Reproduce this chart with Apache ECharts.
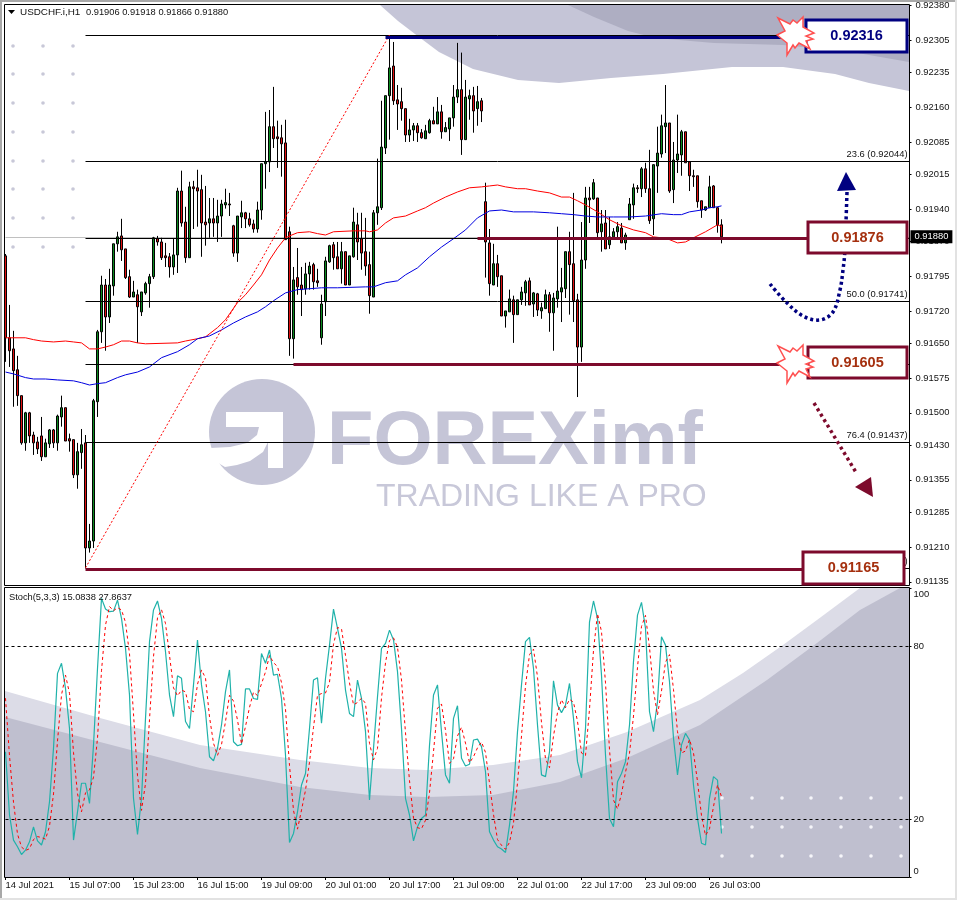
<!DOCTYPE html>
<html><head><meta charset="utf-8">
<style>html,body{margin:0;padding:0;background:#fff}#c{width:957px;height:900px}</style>
<script src="https://cdn.jsdelivr.net/npm/echarts@6/dist/echarts.min.js"></script>
</head><body><div id="c"></div>
<script>
// Prices in points (1 point = 0.00001)
const opens=[91839,91662,91638,91593,91537,91435,91500,91452,91437,91450,
91405,91433,91463,91435,91491,91511,91444,91442,91366,91414,
91435,91208,91223,91524,91675,91776,91707,91774,91865,91882,
91854,91794,91750,91755,91718,91759,91779,91794,91876,91869,
91839,91837,91815,91841,91979,91912,91835,91988,91986,91982,
91912,91910,91919,91910,91925,91949,91951,91904,91845,91923,
91932,91919,91908,91897,91938,92038,92042,92118,92096,92094,
92083,91891,91660,91792,91776,91768,91800,91820,91785,91662,
91740,91826,91863,91837,91811,91848,91776,91837,91906,91876,
91848,91820,91750,91932,91943,92072,92185,92249,92176,92172,
92157,92100,92111,92120,92105,92092,92105,92131,92124,92150,
92107,92113,92137,92182,92198,92090,92178,92185,92157,92174,
91956,91867,91776,91822,91796,91709,91718,91744,91712,91744,
91759,91785,91735,91757,91720,91725,91755,91716,91746,91761,
91768,91848,91822,91744,91642,91830,91964,91962,91964,91891,
91910,91863,91880,91891,91899,91867,91917,91949,91986,91984,
92027,91984,91919,92033,92059,92118,92126,91982,92046,92057,
92107,92042,92012,92012,91958,91938,91943,91990,91943,91906];
const closes=[91662,91634,91591,91537,91435,91500,91450,91435,91422,91405,
91435,91463,91435,91493,91511,91439,91439,91366,91416,91431,
91208,91223,91526,91675,91776,91707,91776,91865,91880,91852,
91792,91750,91761,91729,91761,91779,91794,91878,91869,91835,
91835,91815,91841,91979,91910,91835,91988,91984,91979,91910,
91906,91919,91910,91925,91951,91954,91949,91845,91925,91932,
91919,91906,91897,91938,92038,92042,92118,92092,92092,92081,
91874,91660,91787,91772,91766,91800,91817,91783,91781,91735,
91828,91861,91835,91811,91848,91776,91839,91912,91869,91845,
91817,91753,91932,91945,92074,92185,92245,92174,92167,92157,
92100,92111,92120,92105,92094,92109,92131,92124,92150,92107,
92116,92137,92182,92198,92090,92182,92185,92152,92172,92152,
91869,91779,91822,91794,91709,91720,91746,91712,91744,91761,
91783,91733,91759,91722,91727,91755,91716,91748,91763,91770,
91848,91820,91742,91642,91830,91964,91960,91997,91889,91908,
91854,91880,91891,91902,91867,91884,91951,91986,91984,92027,
91984,91915,92036,92061,92120,92126,91979,92046,92059,92107,
92040,92012,92010,91956,91938,91945,91988,91943,91906,91880];
const highs=[91843,91733,91677,91623,91537,91502,91502,91459,91448,91491,
91444,91465,91465,91496,91537,91511,91455,91442,91435,91465,
91452,91260,91530,91679,91796,91789,91811,91865,91891,91919,
91854,91809,91785,91766,91761,91783,91800,91880,91882,91878,
91867,91845,91876,91986,92023,91945,91999,92001,92025,92014,
91990,91964,91964,91960,91960,91984,91975,91906,91925,91958,
91934,91932,91917,91956,92038,92150,92154,92204,92131,92122,
92133,91902,91815,91856,91815,91824,91826,91824,91811,91755,
91837,91863,91869,91869,91869,91848,91839,91943,91932,91932,
91921,91848,91938,92049,92174,92185,92310,92301,92208,92202,
92157,92135,92126,92126,92113,92122,92135,92161,92182,92165,
92128,92137,92208,92299,92278,92219,92198,92204,92206,92180,
91997,91897,91865,91841,91796,91720,91766,91753,91744,91772,
91787,91792,91761,91759,91738,91766,91761,91759,91902,91813,
91848,91891,91975,91757,91912,91988,91988,92005,91964,91938,
91938,91923,91899,91912,91910,91889,91964,91995,91992,92031,
92040,92068,92036,92118,92144,92208,92126,92085,92144,92111,
92107,92042,92025,92012,91958,91945,92012,91992,91945,91918];
const lows=[91610,91599,91513,91515,91431,91418,91435,91409,91411,91396,
91405,91424,91424,91418,91470,91439,91416,91359,91336,91379,
91165,91198,91208,91491,91651,91634,91694,91753,91848,91828,
91789,91748,91750,91651,91709,91755,91727,91789,91861,91830,
91815,91792,91798,91802,91902,91824,91835,91897,91902,91837,
91861,91878,91880,91869,91880,91941,91925,91837,91826,91899,
91899,91902,91889,91889,91917,91984,92020,92072,92029,92010,
91874,91623,91617,91755,91709,91755,91766,91766,91772,91647,
91709,91824,91809,91811,91779,91776,91776,91835,91830,91809,
91796,91714,91750,91906,91938,92059,92090,92165,92111,92131,
92085,92085,92087,92085,92092,92092,92103,92124,92124,92092,
92107,92087,92118,92169,92057,92090,92133,92105,92120,92128,
91792,91753,91776,91772,91709,91684,91718,91651,91712,91733,
91731,91733,91707,91709,91703,91725,91675,91634,91727,91696,
91748,91712,91696,91534,91610,91811,91910,91960,91878,91848,
91854,91854,91878,91878,91867,91852,91917,91919,91975,91966,
91975,91908,91884,91975,92051,92061,91975,91953,92018,92012,
92040,91979,91988,91943,91921,91936,91943,91943,91889,91866];

// Moving averages read at bar index / value
const maRedBars=[0,5,7,9,12,15,17,19,21,23,25,27,29,31,33,35,43,45,48,50,53,55,58,60,62,64,66,68,70,71,73,76,78,80,82,87,90,91,93,95,97,100,103,105,107,110,113,116,119,121,123,125,128,130,133,136,139,141,143,145,148,151,154,157,160,162,164,166,168,170,172,175,178,179];
const maRedValues=[91662,91662,91658,91655,91653,91655,91653,91651,91638,91638,91642,91647,91655,91655,91651,91649,91651,91655,91660,91664,91684,91701,91738,91755,91776,91798,91830,91856,91878,91882,91889,91891,91887,91884,91891,91893,91893,91891,91895,91910,91921,91925,91936,91943,91953,91966,91977,91986,91988,91990,91992,91988,91984,91984,91979,91975,91966,91966,91958,91949,91934,91917,91904,91895,91889,91880,91878,91874,91867,91869,91878,91891,91906,91902];
const maBlueBars=[0,2,5,7,10,13,17,19,21,23,25,28,30,33,36,39,43,46,48,51,54,57,60,63,65,67,70,73,76,79,83,90,92,95,98,100,103,106,109,112,115,118,121,124,127,132,136,139,142,145,148,152,156,160,164,167,169,171,174,176,178,179];
const maBlueValues=[91588,91584,91576,91573,91573,91571,91569,91565,91560,91563,91565,91576,91582,91588,91599,91619,91632,91647,91660,91666,91679,91694,91707,91718,91729,91742,91759,91766,91768,91770,91770,91772,91772,91781,91785,91798,91813,91837,91858,91876,91895,91921,91936,91938,91934,91934,91932,91930,91928,91925,91923,91923,91923,91925,91930,91928,91928,91934,91938,91943,91945,91947];

// Stochastic
const stochK=[43.4,21.5,12.8,10.5,7.8,9.3,12.2,17.4,12.5,11.1,15.7,26.1,44.6,70.6,74.1,65.4,51.5,12.8,22.6,32.5,
32.5,25.5,45.7,72.3,96.6,92.9,92,92.2,96,89.7,79.3,63.1,27.3,14.8,27.3,55,81.6,92.6,95.7,89.7,
78.1,63.1,55.6,69.8,68.9,53.9,51.5,66.6,82.2,66.6,57.3,41.7,40.3,44.6,52.7,64.3,71.8,46.9,45.5,46,
65.2,65.2,61.9,61.6,77.5,74.1,78.7,70,70.3,61.9,42.3,12,15.1,22.6,31.9,35.9,51.5,68.3,69.1,53.3,
68.9,80.4,92.9,86.2,79.3,64.8,56.7,55.6,68.3,61.9,50.4,26.7,44.6,62.5,79.3,81,85.6,82.2,71.2,51.5,
27.3,21.5,12.5,17.4,20.3,21.5,45.7,63.1,66.6,50.4,35.4,32.5,55,59.4,41.2,38.5,39.1,47.5,47.8,45.2,
36.5,15.7,12.8,10.5,9.7,8.5,18,29.6,50.4,66.6,81.6,83.1,72.3,52.7,35.4,34.8,43.4,68,59.6,57,
59.6,67.1,55,40,34.4,51.5,88.5,95.7,89.7,70,42.3,20.3,17.4,33,35.9,40,52.7,74.7,90.8,95.2,
86.2,57.3,50.4,60.8,83.3,80.4,67.7,48.1,35.4,45.8,49.8,47.5,31.9,20.3,11.7,11.1,27.3,34.8,33.6,15.08];
const stochD=[62,42,25.9,14.9,10.4,9.2,9.8,13,14,13.7,13.1,17.6,28.8,47.1,63.1,70,63.7,43.2,28.9,22.6,
29.2,30.2,34.6,48.1,71.5,87.3,93.8,92.3,93.4,92.6,88.3,77.4,56.6,35.1,23.1,32.4,54.6,76.4,89.9,92.7,
87.9,76.9,65.6,62.8,64.8,64.2,58.1,57.3,66.8,71.8,69,55.5,46.4,42.2,45.9,53.9,63,61,54.4,46.1,
52.2,58.8,64.1,62.9,67,71.1,76.8,74.3,73,67.4,58.2,38.7,23.1,16.6,23.2,30.1,39.8,51.9,63,63.6,
63.8,67.5,80.7,86.5,86.1,76.8,67.3,59.7,60.5,62,60.2,46.3,40.6,44.6,62.1,74.3,82,82.9,79.7,68.3,
50,33.4,20.4,17.1,16.7,19.7,29.2,43.4,58.5,60,50.8,39.4,41,48.9,51.9,46.4,39.6,41.7,44.8,46.8,
43.2,32.5,21.7,13,11,9.6,12,18.7,32.7,48.9,66.3,77.1,79,69.4,53.5,41,37.9,48.9,57,61.5,
58.7,61.6,60.6,54,43,42.1,58.2,78.6,91.3,85.1,67.3,44.2,26.7,23.6,28.8,36.3,42.9,55.8,72.7,86.9,
90.7,79.6,64.6,56.2,64.5,74.5,77.1,65,50.4,43,43.7,47.7,43,33.2,21.3,14.4,16.7,24.4,31.9,27.86];
const stochLevels=[80,20];

// Axes
const xTickLabels=['14 Jul 2021','15 Jul 07:00','15 Jul 23:00','16 Jul 15:00','19 Jul 09:00','20 Jul 01:00','20 Jul 17:00','21 Jul 09:00','22 Jul 01:00','22 Jul 17:00','23 Jul 09:00','26 Jul 03:00'];
const priceTicks=[0.9238,0.92305,0.92235,0.9216,0.92085,0.92015,0.9194,0.9187,0.91795,0.9172,0.9165,0.91575,0.915,0.9143,0.91355,0.91285,0.9121,0.91135];
const stochTicks=[0,20,80,100];
// the 0 and 100 captions sit just inside the pane edges
const stochLabelSpots=[2,20,80,98];
const stochLabelText={2:'0',20:'20',80:'80',98:'100'};

// Fibonacci retracement
const fibPrices=[0.92316,0.92044,0.91876,0.91741,0.91605,0.91437,0.91165];
const fibPercents=['0.0','23.6','38.2','50.0','61.8','76.4','100.0'];
const fibStartBar=20, fibEndBar=96, lastPrice=0.9188;

// Highlighted levels
const levelPrices=[0.92311,0.91876,0.91605,0.91161];
const levelStartBars=[95,118,72,20];
const levelEndBars=[197,201,197,200];
const levelColors=['#000080','#7d0a2c','#7d0a2c','#7d0a2c'];
const boxTexts=['0.92316','0.91876','0.91605','0.91165'];

const BAR_SLOTS=227, FONT='"Liberation Sans",Arial,sans-serif', LABEL=9.4, CRIM='#7d0a2c', NAVY='#000080';
const P=v=>v/100000;
const categories=Array.from({length:BAR_SLOTS},(_,i)=>i%16===0&&xTickLabels[i/16]?xTickLabels[i/16]:'');
const showCat=i=>categories[i]!=='';
const candles=opens.map((o,i)=>[P(o),P(closes[i]),P(lows[i]),P(highs[i])]);
const pairs=(b,v)=>b.map((x,i)=>[x,P(v[i])]);

// ---- decoration (watermark, frames, annotations) ----
const poly=(pts,fill,z,extra)=>Object.assign({type:'polygon',silent:true,z:z,shape:{points:pts},style:{fill:fill}},extra||{});
const deco=[];
const LIGHT='#c5c5d7',DARK='#aeaec2';
deco.push(poly([[380,5],[398,21],[415,34],[439,52],[473,69],[518,80],[559,83],[611,78],[663,74],[732,67],[783,67],[835,74],[869,83],[909,91],[909,5]],LIGHT,0));
deco.push(poly([[568,5],[594,17],[628,31],[656,38],[714,43],[783,45],[852,52],[909,62],[909,5]],DARK,0));
// stoch pane background
deco.push(poly([[5,691],[100,718],[200,745],[300,760],[370,768],[427,770],[493,765],[560,755],[627,732],[700,700],[743,673],[783,645],[817,620],[860,588],[909,588],[909,877],[5,877]],'#dcdce7',0));
deco.push(poly([[5,717],[100,742],[200,768],[300,787],[370,795],[427,797],[493,795],[560,782],[627,758],[700,725],[767,680],[817,643],[860,610],[900,588],[909,588],[909,877],[5,877]],'#bfbfcf',0));
// dots
[13,43,73].forEach(x=>[46,74,103,132,161,189,218,247].forEach(y=>deco.push({type:'circle',silent:true,z:0,shape:{cx:x,cy:y,r:1.8},style:{fill:'#c8c8d8'}})));
[722,752,782,811,841,871,901].forEach(x=>[798,827,856].forEach(y=>deco.push({type:'circle',silent:true,z:0,shape:{cx:x,cy:y,r:1.8},style:{fill:'#f6f6fa'}})));
// logo
deco.push({type:'circle',silent:true,z:0,shape:{cx:262,cy:432,r:53},style:{fill:LIGHT}});
deco.push(poly([[226,412],[283,412],[283,468],[268,468],[268,442],[263,452],[250,461],[237,465],[225,467],[208,457],[207,448],[210,448],[230,447],[247,443],[257,435],[259,427],[226,427]],'#fff',0));
deco.push({type:'text',silent:true,z:0,x:327,y:443,style:{text:'FOREXimf',font:'bold 76px '+FONT,fill:LIGHT,textVerticalAlign:'middle'}});
deco.push({type:'text',silent:true,z:0,x:376,y:497,style:{text:'TRADING LIKE A PRO',font:'32px '+FONT,fill:'#c8c8d9',textVerticalAlign:'middle'}});
// frames
const frame=(x,y,w,h,s,lw,z)=>({type:'rect',silent:true,z:z,shape:{x,y,width:w,height:h},style:{fill:'none',stroke:s,lineWidth:lw}});
deco.push(frame(4.5,4.5,905,581,'#000',1,60),frame(4.5,587.5,905,290,'#000',1,60));
[[0,0,2,900,'#a8a8a8'],[0,0,957,2,'#a8a8a8'],[955,0,2,900,'#e2e2e2'],[0,898,957,2,'#e2e2e2']].forEach(r=>deco.push({type:'rect',silent:true,z:60,shape:{x:r[0],y:r[1],width:r[2],height:r[3]},style:{fill:r[4]}}));
// header texts
deco.push(poly([[8,10],[15,10],[11.5,14]],'#000',60));
const txt=(x,y,t,f,c,a)=>({type:'text',silent:true,z:70,x,y,style:{text:t,font:f,fill:c,textVerticalAlign:'middle',textAlign:a||'left'}});
deco.push(txt(20,12,'USDCHF.i,H1','9.9px '+FONT,'#111'),txt(86,12,'0.91906 0.91918 0.91866 0.91880','9.3px '+FONT,'#111'));
deco.push(txt(9,597,'Stoch(5,3,3) 15.0838 27.8637','9.3px '+FONT,'#111'));
// boxes
const boxes=[[806,20,101,32,NAVY,NAVY],[808,222,99,31,CRIM,'#a5300f'],[808,347,99,31,CRIM,'#a5300f'],[803,552,101,32,CRIM,'#a5300f']];
boxes.forEach((b,i)=>{deco.push({type:'rect',silent:true,z:62,shape:{x:b[0],y:b[1],width:b[2],height:b[3]},style:{fill:'#fff',stroke:b[4],lineWidth:3}});
 deco.push(txt(b[0]+b[2]/2,b[1]+b[3]/2,boxTexts[i],'bold 14.5px '+FONT,b[5],'center'));});
// bursts
const burstPts=[[778,18],[790,24],[793,20],[797,23],[803,17],[803,27],[814,33],[806,36],[813,39],[806,41],[810,49],[799,43],[795,48],[793,45],[787,55],[787,43],[777,35],[785,31]];
[0,328].forEach(dy=>deco.push(poly(burstPts.map(p=>[p[0],p[1]+dy]),'#fff',63,{style:{fill:'#fff',stroke:'#ff5050',lineWidth:1.5}})));
// dotted arrows
deco.push({type:'polyline',silent:true,z:55,shape:{smooth:0.35,points:[[770,284],[786,302],[803,316],[820,320],[833,312],[840,290],[843,270],[845,250],[846,222],[847,192]]},style:{fill:'none',stroke:NAVY,lineWidth:3.5,lineDash:[3,3]}});
deco.push(poly([[846,172],[837,191],[856,190]],NAVY,56));
deco.push({type:'polyline',silent:true,z:55,shape:{points:[[814,403],[857,474]]},style:{fill:'none',stroke:CRIM,lineWidth:3.5,lineDash:[3,3.4]}});
deco.push(poly([[855,487],[871,477],[873,497]],CRIM,56));

// ---- chart ----
const fibLines=fibPrices.map((v,i)=>[{xAxis:fibStartBar,yAxis:v,label:{show:true,formatter:fibPercents[i]+' ('+v.toFixed(5)+')',position:'insideEndTop',distance:2,color:'#111',fontSize:LABEL,fontFamily:FONT}},{xAxis:BAR_SLOTS-1,yAxis:v}]);
const levelLines=levelPrices.map((v,i)=>[{xAxis:levelStartBars[i],yAxis:v,lineStyle:{color:levelColors[i],width:3.2,type:'solid'}},{xAxis:levelEndBars[i],yAxis:v}]);
const chart=echarts.init(document.getElementById('c'),null,{renderer:'canvas'});
const yLabel={color:'#111',fontSize:LABEL,fontFamily:FONT};
chart.setOption({
 animation:false,backgroundColor:'#fff',
 grid:[{left:3.5,top:4,width:908,height:581},{left:3.5,top:588.6,width:908,height:288.4}],
 xAxis:[
  {type:'category',gridIndex:0,data:categories,show:false},
  {type:'category',gridIndex:1,data:categories,axisLine:{show:false},
   axisTick:{show:true,alignWithLabel:true,interval:showCat,length:3,lineStyle:{color:'#000'}},
   axisLabel:{interval:showCat,align:'left',margin:4,color:'#111',fontSize:LABEL,fontFamily:FONT,formatter:v=>v,hideOverlap:false},splitLine:{show:false}}
 ],
 yAxis:[
  {type:'value',gridIndex:0,position:'right',min:0.91128,max:0.92383,axisLine:{show:false},splitLine:{show:false},
   axisTick:{show:true,inside:true,length:2,customValues:priceTicks,lineStyle:{color:'#000'}},
   axisLabel:Object.assign({customValues:priceTicks,margin:4,formatter:v=>v.toFixed(5)},yLabel)},
  {type:'value',gridIndex:1,position:'right',min:0,max:100,axisLine:{show:false},splitLine:{show:false},
   axisTick:{show:true,inside:true,length:2,customValues:stochTicks,lineStyle:{color:'#000'}},
   axisLabel:Object.assign({customValues:stochLabelSpots,margin:2,formatter:v=>stochLabelText[v]},yLabel)}
 ],
 series:[
  {type:'line',xAxisIndex:0,yAxisIndex:0,data:[],z:1,silent:true,symbol:'none',
   markLine:{silent:true,symbol:'none',z:1,animation:false,lineStyle:{color:'#c0c0c0',width:1,type:'solid'},
    label:{show:true,position:'end',distance:1,formatter:lastPrice.toFixed(5),color:'#fff',backgroundColor:'#000',padding:[2,4,2,4],fontSize:LABEL,fontFamily:FONT},
    data:[[{xAxis:0,yAxis:lastPrice},{xAxis:BAR_SLOTS-1,yAxis:lastPrice}]]}},
  {type:'candlestick',name:'USDCHF',xAxisIndex:0,yAxisIndex:0,data:candles,barWidth:2,silent:true,z:3,
   itemStyle:{color:'#0a8a1e',color0:'#e01010',borderColor:'#000',borderColor0:'#000',borderWidth:1},
   markLine:{silent:true,symbol:'none',animation:false,lineStyle:{color:'#000',width:1,type:'solid'},data:fibLines}},
  {type:'line',name:'MA red',xAxisIndex:0,yAxisIndex:0,data:pairs(maRedBars,maRedValues),z:4,symbol:'none',silent:true,lineStyle:{color:'#ff0000',width:1}},
  {type:'line',name:'MA blue',xAxisIndex:0,yAxisIndex:0,data:pairs(maBlueBars,maBlueValues),z:4,symbol:'none',silent:true,lineStyle:{color:'#0000e0',width:1}},
  {type:'line',xAxisIndex:0,yAxisIndex:0,data:[],z:5,silent:true,symbol:'none',
   markLine:{silent:true,symbol:'none',animation:false,lineStyle:{color:'#ff0000',width:1,type:[2,2]},label:{show:false},
    data:[[{xAxis:fibStartBar,yAxis:fibPrices[6]},{xAxis:fibEndBar,yAxis:fibPrices[0]}]].concat(levelLines)}},
  {type:'line',name:'%K',xAxisIndex:1,yAxisIndex:1,data:stochK,z:4,symbol:'none',silent:true,lineStyle:{color:'#20b2aa',width:1.2},
   markLine:{silent:true,symbol:'none',animation:false,lineStyle:{color:'#000',width:1,type:[3,3]},label:{show:false},
    data:stochLevels.map(v=>[{xAxis:0,yAxis:v},{xAxis:BAR_SLOTS-1,yAxis:v}])}},
  {type:'line',name:'%D',xAxisIndex:1,yAxisIndex:1,data:stochD,z:4,symbol:'none',silent:true,lineStyle:{color:'#ff0000',width:1,type:[3,3]}}
 ],
 graphic:{elements:deco}
});
</script></body></html>
